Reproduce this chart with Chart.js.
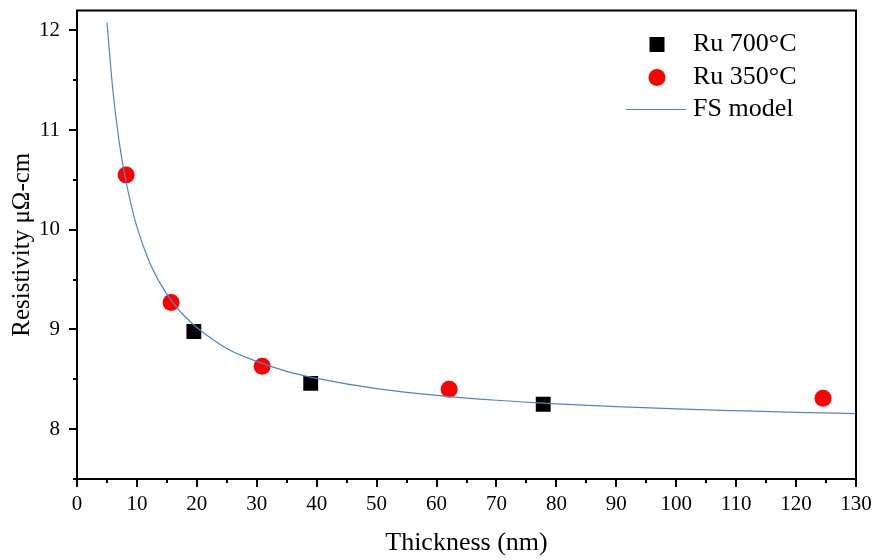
<!DOCTYPE html>
<html lang="en">
<head>
    <meta charset="UTF-8">
    <title>Resistivity vs Thickness</title>
    <style>
        body {
            margin: 0;
            padding: 0;
            background-color: #fff;
        }
        .chart-container {
            width: 875px;
            height: 560px;
        }
    </style>
</head>
<body>

    <div class="chart-container">
        <canvas id="rhoChart"></canvas>
    </div>

    <script src="https://cdn.jsdelivr.net/npm/chart.js"></script>
    <script>
        // Measured points (thickness nm, resistivity uOhm-cm)
        const ru700Thickness = [19.5, 39, 77.8];
        const ru700Rho = [8.98, 8.46, 8.25];
        const ru350Thickness = [8.2, 15.7, 30.9, 62.1, 124.5];
        const ru350Rho = [10.55, 9.27, 8.63, 8.40, 8.31];

        // FS model curve
        const fsThickness = [5, 6, 7, 8, 9, 10, 12, 14, 16, 18, 20, 25, 30, 35, 40, 50, 60, 70, 80, 90, 100, 110, 120, 130];
        const fsRho = [12.08, 11.39, 10.90, 10.54, 10.26, 10.03, 9.69, 9.45, 9.27, 9.13, 9.02, 8.81, 8.68, 8.58, 8.51, 8.407, 8.339, 8.290, 8.254, 8.226, 8.203, 8.185, 8.169, 8.156];

        const xTicks = [0, 10, 20, 30, 40, 50, 60, 70, 80, 90, 100, 110, 120, 130];
        const yTicks = [8, 9, 10, 11, 12];

        const legendLabels = ['Ru 700°C', 'Ru 350°C', 'FS model'];

        const serif = "'Liberation Serif', 'Times New Roman', serif";
        const pts = (xs, ys) => xs.map((x, i) => ({ x: x, y: ys[i] }));

        // frame, outward major/minor ticks and the legend
        const decorPlugin = {
            id: 'decor',
            afterDraw(chart) {
                const c = chart.ctx;
                const a = chart.chartArea;
                const xs = chart.scales.x, ys = chart.scales.y;
                c.save();
                c.strokeStyle = '#000';
                c.lineWidth = 2;
                c.strokeRect(a.left, a.top, a.right - a.left, a.bottom - a.top);
                c.beginPath();
                for (let v = 0; v <= 130; v += 5) {
                    const px = Math.round(xs.getPixelForValue(v));
                    const len = v % 10 === 0 ? 8 : 4;
                    c.moveTo(px, a.bottom);
                    c.lineTo(px, a.bottom + len);
                }
                for (let v = 7.5; v <= 12; v += 0.5) {
                    const py = Math.round(ys.getPixelForValue(v));
                    const len = Number.isInteger(v) ? 8 : 4;
                    c.moveTo(a.left, py);
                    c.lineTo(a.left - len, py);
                }
                c.stroke();

                // legend
                const lx = a.right - 199;
                const tx = a.right - 163;
                const rows = [a.top + 34, a.top + 67, a.top + 99];
                c.fillStyle = '#000';
                c.fillRect(lx - 7.5, rows[0] - 7.5, 15, 15);
                c.fillStyle = '#ff0000';
                c.beginPath();
                c.arc(lx, rows[1], 8.5, 0, Math.PI * 2);
                c.fill();
                c.strokeStyle = '#4f86c0';
                c.lineWidth = 1.2;
                c.beginPath();
                c.moveTo(lx - 31, rows[2]);
                c.lineTo(lx + 29, rows[2]);
                c.stroke();
                c.fillStyle = '#000';
                c.font = '26px ' + serif;
                c.textBaseline = 'middle';
                legendLabels.forEach((t, i) => c.fillText(t, tx, rows[i]));
                c.restore();
            }
        };

        const ctx = document.getElementById('rhoChart').getContext('2d');

        const config = {
            type: 'scatter',
            data: {
                datasets: [
                    {
                        label: legendLabels[2],
                        data: pts(fsThickness, fsRho),
                        showLine: true,
                        borderColor: '#4f86c0',
                        borderWidth: 1.2,
                        pointRadius: 0,
                        cubicInterpolationMode: 'monotone',
                        order: 0
                    },
                    {
                        label: legendLabels[0],
                        data: pts(ru700Thickness, ru700Rho),
                        pointStyle: 'rect',
                        pointRadius: 10.5,
                        backgroundColor: '#000',
                        borderWidth: 0,
                        order: 1
                    },
                    {
                        label: legendLabels[1],
                        data: pts(ru350Thickness, ru350Rho),
                        pointStyle: 'circle',
                        pointRadius: 8.5,
                        backgroundColor: '#ff0000',
                        borderWidth: 0,
                        order: 1
                    }
                ]
            },
            options: {
                responsive: true,
                maintainAspectRatio: false,
                animation: false,
                layout: { padding: { top: 6, right: 19, left: 0, bottom: 0 } },
                plugins: {
                    legend: { display: false },
                    tooltip: { enabled: false }
                },
                scales: {
                    x: {
                        type: 'linear',
                        min: 0,
                        max: 130,
                        afterBuildTicks: s => { s.ticks = xTicks.map(v => ({ value: v })); },
                        afterFit: s => {
                            s.height = 81;
                            s.paddingLeft = 0;
                            s.paddingRight = 0;
                        },
                        grid: { display: false, drawTicks: false },
                        border: { display: false },
                        ticks: {
                            padding: 13,
                            color: '#000',
                            maxRotation: 0,
                            font: { family: serif, size: 21 }
                        },
                        title: {
                            display: true,
                            text: 'Thickness (nm)',
                            color: '#000',
                            font: { family: serif, size: 26 },
                            padding: { top: 0, bottom: 1 }
                        }
                    },
                    y: {
                        type: 'linear',
                        min: 7.5,
                        max: 12.2,
                        afterBuildTicks: s => { s.ticks = yTicks.map(v => ({ value: v })); },
                        afterFit: s => {
                            s.width = 77;
                            s.paddingTop = 0;
                            s.paddingBottom = 0;
                        },
                        grid: { display: false, drawTicks: false },
                        border: { display: false },
                        ticks: {
                            padding: 17,
                            color: '#000',
                            font: { family: serif, size: 21 }
                        },
                        title: {
                            display: true,
                            text: 'Resistivity μΩ-cm',
                            color: '#000',
                            font: { family: serif, size: 25 },
                            padding: { top: 7, bottom: 0 }
                        }
                    }
                }
            },
            plugins: [decorPlugin]
        };

        const rhoChart = new Chart(ctx, config);
    </script>

</body>
</html>
